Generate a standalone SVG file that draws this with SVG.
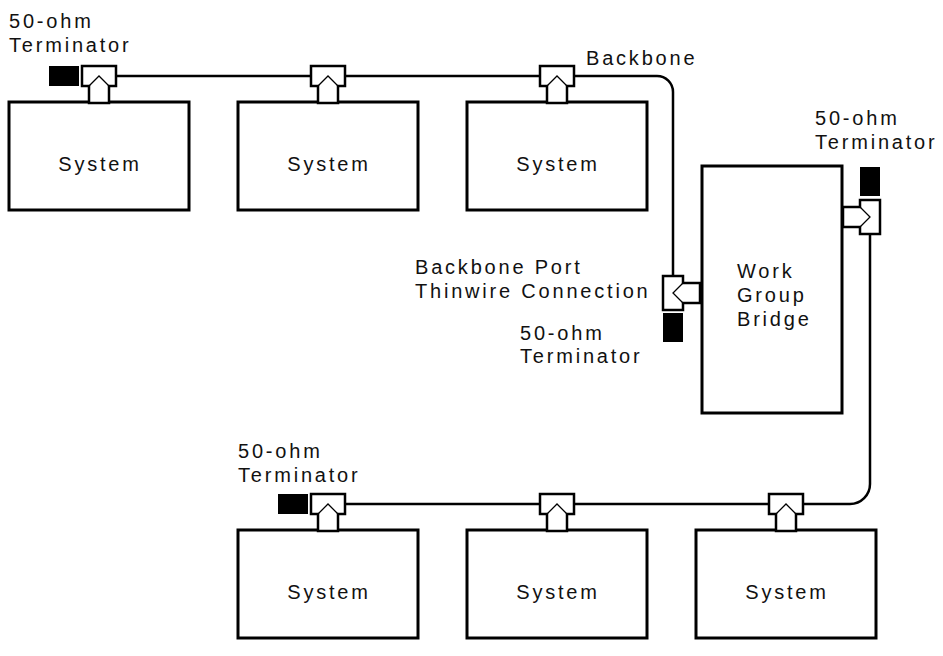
<svg xmlns="http://www.w3.org/2000/svg" width="943" height="656" viewBox="0 0 943 656">
<style>
  .box{fill:#fff;stroke:#000;stroke-width:3}
  .tee{fill:#fff;stroke:#000;stroke-width:2.5;stroke-linejoin:miter}
  .chev{fill:none;stroke:#000;stroke-width:1.3}
  .term{fill:#000}
  .wire{fill:none;stroke:#000;stroke-width:2.5}
  text{font-family:"Liberation Sans",Arial,Helvetica,sans-serif;font-size:20px;letter-spacing:2.8px;fill:#111}
  .c{text-anchor:middle}
</style>
<defs>
  <g id="tee">
    <polygon class="tee" points="-17,0 17,0 17,20 10,20 10,37 -10,37 -10,20 -17,20"/>
    <polyline class="chev" points="-10,20 0,10 10,20"/>
  </g>
</defs>
<g id="connectors">
  <path class="wire" d="M116,76 H657 A16,16 0 0 1 673,92 V276"/>
  <path class="wire" d="M870,234 V484 A20,20 0 0 1 850,504 H345"/>
</g>
<g id="sys1"><rect class="box" x="9" y="102" width="180" height="108"/><text class="c" x="100" y="171">System</text></g>
<g id="sys2"><rect class="box" x="238" y="102" width="180" height="108"/><text class="c" x="329" y="171">System</text></g>
<g id="sys3"><rect class="box" x="467" y="102" width="180" height="108"/><text class="c" x="558" y="171">System</text></g>
<g id="sys4"><rect class="box" x="238" y="530" width="180" height="108"/><text class="c" x="329" y="599">System</text></g>
<g id="sys5"><rect class="box" x="467" y="530" width="180" height="108"/><text class="c" x="558" y="599">System</text></g>
<g id="sys6"><rect class="box" x="696" y="530" width="180" height="108"/><text class="c" x="787" y="599">System</text></g>
<g id="bridge"><rect class="box" x="702" y="166" width="140" height="247"/>
  <text x="737" y="278">Work</text><text x="737" y="302">Group</text><text x="737" y="326">Bridge</text></g>
<g id="tee1"><use href="#tee" transform="translate(99,66)"/></g>
<g id="tee2"><use href="#tee" transform="translate(328,66)"/></g>
<g id="tee3"><use href="#tee" transform="translate(557,66)"/></g>
<g id="tee4"><use href="#tee" transform="translate(328,494)"/></g>
<g id="tee5"><use href="#tee" transform="translate(557,494)"/></g>
<g id="tee6"><use href="#tee" transform="translate(786,494)"/></g>
<g id="tee-bridge-left"><use href="#tee" transform="translate(663,293) rotate(-90)"/></g>
<g id="tee-bridge-right"><use href="#tee" transform="translate(880,217) rotate(90)"/></g>
<g id="term1"><rect class="term" x="49" y="66" width="30" height="20"/></g>
<g id="term2"><rect class="term" x="278" y="494" width="30" height="20"/></g>
<g id="term3"><rect class="term" x="663" y="313" width="20" height="29"/></g>
<g id="term4"><rect class="term" x="860" y="167" width="20" height="29"/></g>
<g id="labels">
  <text x="9" y="28">50-ohm</text><text x="9" y="52">Terminator</text>
  <text x="586" y="65">Backbone</text>
  <text x="815" y="125">50-ohm</text><text x="815" y="149">Terminator</text>
  <text x="415" y="274">Backbone Port</text><text x="415" y="298">Thinwire Connection</text>
  <text x="520" y="340">50-ohm</text><text x="520" y="363">Terminator</text>
  <text x="238" y="458">50-ohm</text><text x="238" y="482">Terminator</text>
</g>
</svg>
